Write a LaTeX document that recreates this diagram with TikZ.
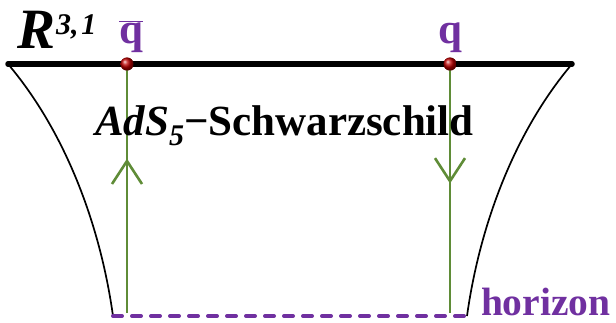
\documentclass[tikz,border=0pt]{standalone}
\usepackage{fontspec}
\setmainfont{Liberation Serif}
\usetikzlibrary{arrows.meta,decorations.markings}
\definecolor{qpurple}{RGB}{112,48,160}
\definecolor{lgreen}{RGB}{95,140,55}
\begin{document}
\begin{tikzpicture}[x=1pt,y=-1pt,
  lbl/.style={inner sep=0pt, outer sep=0pt},
  side/.style={line width=1.7pt, black},
  bar/.style={line width=5.5pt, black, line cap=round},
  wline/.style={line width=2.6pt, lgreen},
  hor/.style={qpurple, line width=4pt, line cap=round, dash pattern=on 9pt off 10pt},
  qdot/.style={circle, inner sep=0pt, minimum size=13pt, shading=ball, ball color=red!75!black},
  upmark/.style={postaction={decorate}, decoration={markings, mark=at position #1 with {\arrow{Straight Barb[length=23pt,width=30pt,line width=2.6pt]}}}}
]
\useasboundingbox (0,0) rectangle (616,322);
\coordinate (TL) at (8,64);
\coordinate (TR) at (572,64);
\coordinate (BL) at (113,316);
\coordinate (BR) at (467,316);
\coordinate (LB) at (127,313);
\coordinate (RB) at (450,313);
\node[qdot] (qbdot) at (127,64) {};
\node[qdot] (qdot) at (450,64) {};

\draw[side] (TL) .. controls (68,135) and (101,230) .. (BL);
\draw[side] (TR) .. controls (512,135) and (479,230) .. (BR);
\draw[bar] (TL) -- (TR);

\draw[wline, upmark=0.62] (LB) -- (qbdot.center);
\draw[wline, upmark=0.48] (qdot.center) -- (RB);
\draw[hor] (BL) -- (BR);

\node[qdot] at (qbdot) {};
\node[qdot] at (qdot) {};

\node[lbl, anchor=base west] (R) at (17,48) {\fontsize{57}{57}\selectfont\bfseries\itshape R\kern1pt\raisebox{14pt}{\fontsize{30}{30}\selectfont 3,\kern3pt 1}};
\node[lbl, anchor=base, text=qpurple] (qbar) at (131,43) {\fontsize{43}{43}\selectfont\bfseries $\overline{\mbox{q}}$};
\node[lbl, anchor=base, text=qpurple] (q) at (450,43) {\fontsize{43}{43}\selectfont\bfseries q};
\node[lbl, anchor=base west] (ads) at (95,135) {\fontsize{43}{43}\selectfont\bfseries\itshape AdS\raisebox{-10pt}{\fontsize{30}{30}\selectfont 5}\upshape −Schwarzschild};
\node[lbl, anchor=base west, text=qpurple] (horizon) at (481,315) {\fontsize{39.5}{39.5}\selectfont\bfseries horizon};
\end{tikzpicture}
\end{document}
